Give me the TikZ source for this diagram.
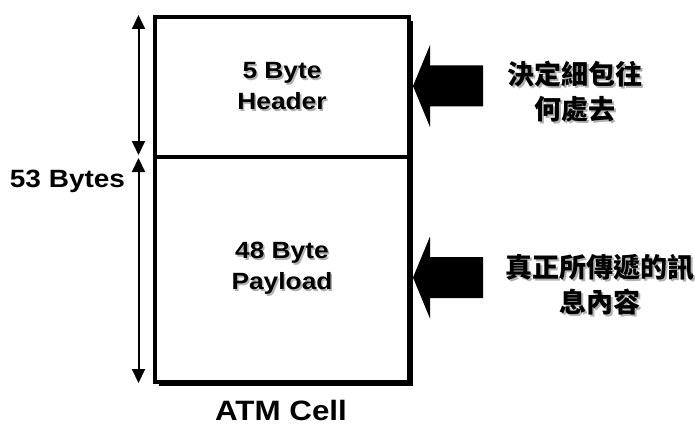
\documentclass[tikz,border=0pt]{standalone}
\usepackage{fontspec}
\setmainfont{Liberation Sans}[FakeStretch=1.12]
\newfontfamily\cjk{Noto Sans CJK TC}
\usetikzlibrary{shadows,arrows.meta}
\newcommand{\shtext}[1]{\rlap{\kern1.6pt\raisebox{-1.6pt}{\textcolor{black!30}{#1}}}#1}
\begin{document}
\begin{tikzpicture}[x=1pt,y=-1pt,
  cellpart/.style={draw=black,line width=4pt,fill=white,minimum width=254pt,inner sep=0pt,
    drop shadow={shadow xshift=4pt,shadow yshift=-4pt,fill=black,opacity=1},
    font=\fontsize{23.5}{31}\selectfont\bfseries,align=center},
  dimarrow/.style={line width=2pt,{Triangle[length=14pt,width=13pt]}-{Triangle[length=14pt,width=13pt]}},
  cjklabel/.style={font=\fontsize{27}{35}\selectfont\cjk\bfseries,align=center},
  blockarrow/.pic={\fill[black] (0,0) -- (17,-41) -- (17,-20.5) -- (70,-20.5) -- (70,20.5) -- (17,20.5) -- (17,41) -- cycle;}
]
\useasboundingbox (0,0) rectangle (695,425);
\node[cellpart,minimum height=139.5pt] (header) at (282,86.75) {\shtext{5 Byte}\\\shtext{Header}};
\node[cellpart,minimum height=225.5pt] (payload) at (282,269.25) {\shtext{48 Byte}\\\shtext{Payload}};
\coordinate (a1) at (138.5,15);
\coordinate (a2) at (138.5,155);
\coordinate (a3) at (138.5,158);
\coordinate (a4) at (138.5,383);
\draw[dimarrow] (a1) -- (a2);
\draw[dimarrow] (a3) -- (a4);
\node[font=\fontsize{25}{30}\selectfont\bfseries] (size) at (67.5,181) {53 Bytes};
\node[font=\fontsize{28}{32}\selectfont\bfseries] (title) at (281,410) {ATM Cell};
\pic at (413,86) {blockarrow};
\pic at (413,277.5) {blockarrow};
\node[cjklabel] (hlabel) at (575,92.5) {\shtext{決定細包往}\\\shtext{何處去}};
\node[cjklabel] (plabel) at (600,285.5) {\shtext{真正所傳遞的訊}\\\shtext{息內容}};
\end{tikzpicture}
\end{document}
